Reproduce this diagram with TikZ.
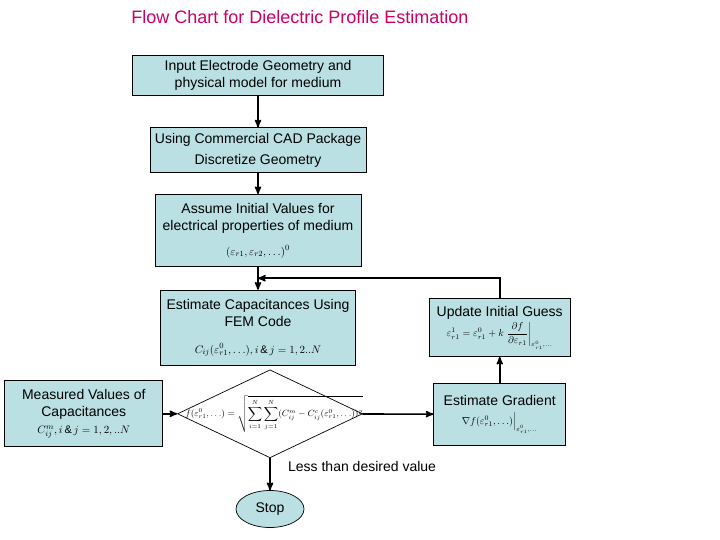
\documentclass[tikz,border=0pt]{standalone}
\usepackage{fontspec}
\setmainfont{Liberation Sans}
\usetikzlibrary{shapes,arrows,calc,positioning}

\definecolor{boxblue}{RGB}{187,224,227}
\definecolor{titlered}{RGB}{204,0,102}
\newcommand{\eqn}[2][11]{{\fontsize{#1}{#1}\selectfont$\displaystyle #2$}}

\begin{document}
\begin{tikzpicture}[->,>=stealth',x=1pt,y=-1pt,line width=1.6pt,
                    every node/.style={font=\fontsize{14}{17}\selectfont},
                    box/.style={rectangle,draw,line width=0.7pt,fill=boxblue,align=center,inner sep=2pt}]
  \useasboundingbox (0,0) rectangle (720,540);

  \node[font=\fontsize{18}{20}\selectfont,text=titlered] (title) at (300,17) {Flow Chart for Dielectric Profile Estimation};

  \node[box,minimum width=251pt,minimum height=40pt] (input) at (258,75) {Input Electrode Geometry and\\physical model for medium};
  \node[box,minimum width=216pt,minimum height=45pt] (cad) [below=32pt of input] {Using Commercial CAD Package\\[4pt]Discretize Geometry};
  \node[box,minimum width=206pt,minimum height=72pt] (assume) [below=21pt of cad] {Assume Initial Values for\\electrical properties of medium\\[8pt]\eqn{(\varepsilon_{r1},\varepsilon_{r2},\ldots)^0}};
  \node[box,minimum width=195pt,minimum height=75pt] (estcap) [below=23pt of assume] {Estimate Capacitances Using\\FEM Code\\[10pt]\eqn{C_{ij}(\varepsilon^0_{r1},\ldots),i\,\&\,j=1,2..N}};
  \node[diamond,draw,line width=0.7pt,minimum width=185pt,minimum height=88pt,inner sep=0pt] (check) [below=4pt of estcap, xshift=12pt] {};
  \node (cost) at ([xshift=4pt]check.center) {\eqn[9]{f(\varepsilon^0_{r1},\ldots)=\sqrt{\sum_{i=1}^{N}\sum_{j=1}^{N}(C^m_{ij}-C^c_{ij}(\varepsilon^0_{r1},\ldots))^2}}};
  \node[box,minimum width=158pt,minimum height=66pt] (meas) [left=14pt of check] {Measured Values of\\Capacitances\\\eqn{C^m_{ij},i\,\&\,j=1,2,..N}};
  \node[box,minimum width=141pt,minimum height=58pt] (update) [right=73pt of estcap] {Update Initial Guess\\[2pt]\eqn[10]{\varepsilon^1_{r1}=\varepsilon^0_{r1}+k\left.\frac{\partial f}{\partial\varepsilon_{r1}}\right|_{\varepsilon^0_{r1},\ldots}}};
  \node[box,minimum width=132pt,minimum height=62pt] (grad) [below=26pt of update] {Estimate Gradient\\[2pt]\eqn[10]{\nabla f(\varepsilon^0_{r1},\ldots)\Big|_{\varepsilon^0_{r1},\ldots}}};
  \node[ellipse,draw,line width=0.7pt,fill=boxblue,minimum width=68pt,minimum height=37pt] (stop) [below=32pt of check] {Stop};

  \coordinate (join) at ($(assume.south)!0.5!(estcap.north)$);

  \path (input)  edge (cad)
        (cad)    edge (assume)
        (assume) edge (estcap)
        (meas)   edge (check)
        (check)  edge (grad)
        (grad)   edge (update)
        (check)  edge node[right,pos=0.25,xshift=14pt] {Less than desired value} (stop);
  \draw (update.north) |- (join);
\end{tikzpicture}
\end{document}
